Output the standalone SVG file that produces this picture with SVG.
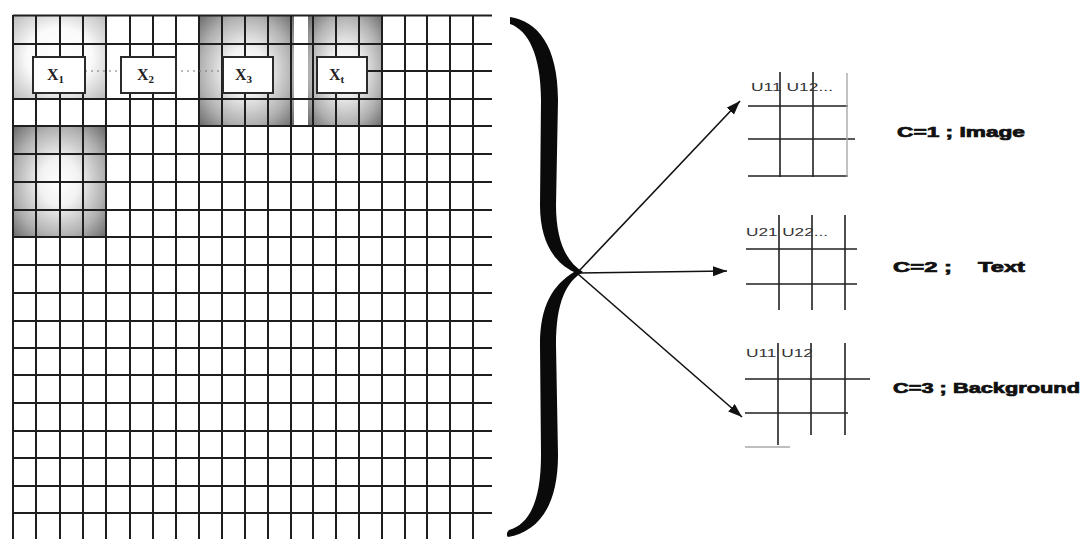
<svg xmlns="http://www.w3.org/2000/svg" width="1082" height="539" viewBox="0 0 1082 539">
<style>
.g{stroke:#1e1e1e;stroke-width:2;fill:none}
.s{stroke:#222;stroke-width:1.6;fill:none}
.sl{stroke:#aaa;stroke-width:1.4;fill:none}
.box{fill:#fff;stroke:#2a2a2a;stroke-width:2}
.bx{font-family:"Liberation Serif",serif;font-size:16px;font-weight:bold;fill:#222}
.u{font-family:"Liberation Sans",sans-serif;font-size:11px;fill:#333}
.lab{font-family:"Liberation Sans",sans-serif;font-size:14px;font-weight:bold;fill:#111;stroke:#111;stroke-width:0.7}
.arr{stroke:#111;stroke-width:1.6;fill:none;marker-end:url(#ah)}
</style>
<defs>
<radialGradient id="vd" cx="0.5" cy="0.5" r="0.7">
<stop offset="0" stop-color="#fff"/>
<stop offset="0.3" stop-color="#f2f2f2"/>
<stop offset="0.7" stop-color="#b0b0b0"/>
<stop offset="1" stop-color="#6a6a6a"/>
</radialGradient>
<radialGradient id="vl" cx="0.5" cy="0.5" r="0.7">
<stop offset="0" stop-color="#fff"/>
<stop offset="0.5" stop-color="#fafafa"/>
<stop offset="1" stop-color="#bbb"/>
</radialGradient>
<marker id="ah" markerUnits="userSpaceOnUse" markerWidth="16" markerHeight="12" refX="14" refY="5" orient="auto">
<path d="M0,0 L14,5 L0,10 z" fill="#111"/>
</marker>
</defs>
<rect width="1082" height="539" fill="#fff"/>
<g id="shading">
<rect x="13" y="15" width="93" height="84" fill="url(#vl)"/>
<rect x="13" y="126" width="93" height="112" fill="url(#vd)"/>
<rect x="199" y="15" width="95" height="111" fill="url(#vd)"/>
<rect x="308" y="15" width="75" height="111" fill="url(#vd)"/>
</g>
<g id="grid">
<path class="g" d="M13,15V539M36,15V539M60,15V539M83,15V539M106,15V539M130,15V539M153,15V539M176,15V539M199,15V539M222,15V539M245,15V539M268,15V539M291,15V539M313,15V539M336,15V539M359,15V539M382,15V539M405,15V539M427,15V539M450,15V539M473,15V539"/>
<path class="g" d="M13,15.5H492M13,44H492M13,99H492M13,126H492M13,154H492M13,182H492M13,210H492M13,237H492M13,265H492M13,293H492M13,321H492M13,348H492M13,375H492M13,403H492M13,431H492M13,458H492M13,486H492M13,513H492"/>
<path d="M85,71H223" stroke="#777" stroke-width="1.2" stroke-dasharray="2 4" fill="none"/>
<path class="g" d="M367,71H492"/>
</g>
<g id="x1"><rect class="box" x="33" y="57" width="52" height="36"/><text class="bx" x="47" y="80">X<tspan font-size="11" dy="3">1</tspan></text></g>
<g id="x2"><rect class="box" x="121" y="57" width="55" height="36"/><text class="bx" x="137" y="80">X<tspan font-size="11" dy="3">2</tspan></text></g>
<g id="x3"><rect class="box" x="223" y="57" width="50" height="36"/><text class="bx" x="235" y="80">X<tspan font-size="11" dy="3">3</tspan></text></g>
<g id="xt"><rect class="box" x="317" y="57" width="50" height="36"/><text class="bx" x="329" y="80">X<tspan font-size="11" dy="3">t</tspan></text></g>
<g id="brace">
<path fill="#0a0a0a" d="M510,17 C537,21 558,45 558,100 L556,205 C556,240 566,262 583,272 C566,282 556,302 556,345 L558,455 C558,508 537,532 508,537 C506,535 507,532 509,530 C530,524 541,500 541,455 L540,345 C540,305 553,285 574,272 C553,262 540,240 540,205 L541,100 C541,55 528,30 510,24 Z"/>
</g>
<g id="connectors">
<path class="arr" d="M578,272 L740,101"/>
<path class="arr" d="M578,273 L727,271"/>
<path class="arr" d="M578,274 L742,417"/>
</g>
<g id="cluster1">
<path class="s" d="M748,106H848M748,139H855M748,176H848M780,72V177M813,72V177"/>
<path class="sl" d="M847,73V177"/>
<text class="u" x="751" y="91" textLength="82" lengthAdjust="spacingAndGlyphs">U11 U12...</text>
<text class="lab" x="897" y="137" textLength="128" lengthAdjust="spacingAndGlyphs">C=1 ; Image</text>
</g>
<g id="cluster2">
<path class="s" d="M746,249H857M746,284H857M779,215V310M812,215V310M845,215V310"/>
<text class="u" x="746" y="236" textLength="82" lengthAdjust="spacingAndGlyphs">U21 U22...</text>
<text class="lab" y="272"><tspan x="893" textLength="59" lengthAdjust="spacingAndGlyphs">C=2 ;</tspan><tspan x="978" textLength="47" lengthAdjust="spacingAndGlyphs">Text</tspan></text>
</g>
<g id="cluster3">
<path class="s" d="M745,379H870M745,413H848M778,343V445M811,343V435M845,343V435"/>
<path class="sl" d="M745,447H790"/>
<text class="u" x="746" y="357" textLength="67" lengthAdjust="spacingAndGlyphs">U11 U12</text>
<text class="lab" x="893" y="393" textLength="187" lengthAdjust="spacingAndGlyphs">C=3 ; Background</text>
</g>
</svg>
